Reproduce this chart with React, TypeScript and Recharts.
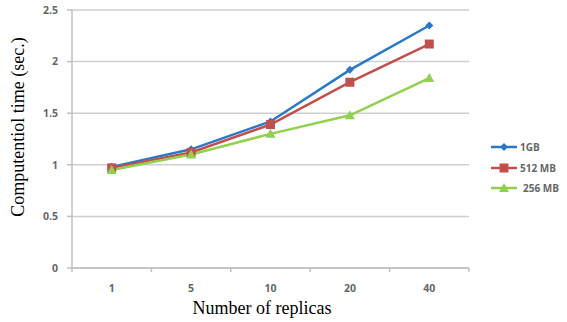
import { LineChart, Line, XAxis, YAxis, CartesianGrid, Label } from "recharts";

const REPLICAS = ["1", "5", "10", "20", "40"];
const GB_1 = [0.98, 1.15, 1.42, 1.92, 2.35];
const MB_512 = [0.97, 1.12, 1.39, 1.8, 2.17];
const MB_256 = [0.95, 1.1, 1.3, 1.48, 1.84];
const Y_TICKS = [0, 0.5, 1, 1.5, 2, 2.5];

const SERIES = [
  { key: "gb1", name: "1GB", color: "#2a78c8", shape: "diamond" },
  { key: "mb512", name: "512 MB", color: "#c0504d", shape: "square" },
  { key: "mb256", name: "256 MB", color: "#92d050", shape: "triangle" },
];

const data = REPLICAS.map((r, i) => ({
  replicas: r,
  gb1: GB_1[i],
  mb512: MB_512[i],
  mb256: MB_256[i],
}));

const W = 567;
const H = 322;
const PLOT_LEFT = 72;
const PLOT_RIGHT = 469;
const PLOT_TOP = 10;
const PLOT_BOTTOM = 268;
const BAND = (PLOT_RIGHT - PLOT_LEFT) / REPLICAS.length;
const AXIS = "#bfbfbf";
const TICK_FONT = "'Open Sans', 'Liberation Sans', sans-serif";
const SERIF = "'Liberation Serif', 'DejaVu Serif', serif";

function Marker({ cx, cy, shape, color }: any) {
  if (cx == null || cy == null) return null;
  if (shape === "diamond") {
    const s = 4;
    return <polygon points={`${cx},${cy - s} ${cx + s},${cy} ${cx},${cy + s} ${cx - s},${cy}`} fill={color} />;
  }
  if (shape === "square") {
    return <rect x={cx - 4.5} y={cy - 4.5} width={9} height={9} fill={color} />;
  }
  return <polygon points={`${cx},${cy - 5} ${cx + 5},${cy + 4} ${cx - 5},${cy + 4}`} fill={color} />;
}

// excel style: tick marks sit between categories, labels in the middle
function XTick({ x, payload, index }: any) {
  const left = x - BAND / 2;
  return (
    <g>
      <line x1={left} x2={left} y1={PLOT_BOTTOM} y2={PLOT_BOTTOM + 4} stroke={AXIS} strokeWidth={1.5} />
      {index === REPLICAS.length - 1 && (
        <line x1={left + BAND} x2={left + BAND} y1={PLOT_BOTTOM} y2={PLOT_BOTTOM + 4} stroke={AXIS} strokeWidth={1.5} />
      )}
      <text x={x} y={292} textAnchor="middle" fontSize={10.5} fontWeight={700} fill="#666" fontFamily={TICK_FONT}>
        {payload.value}
      </text>
    </g>
  );
}

function Legend() {
  return (
    <div style={{ position: "absolute", left: 490, top: 137 }}>
      {SERIES.map((s) => (
        <div key={s.key} style={{ display: "flex", alignItems: "center", height: 20.5 }}>
          <svg width={30} height={14}>
            <line x1={1} x2={27} y1={7} y2={7} stroke={s.color} strokeWidth={2.5} />
            <Marker cx={14} cy={7} shape={s.shape} color={s.color} />
          </svg>
          <span style={{ fontFamily: TICK_FONT, fontSize: 10, fontWeight: 700, color: "#666", marginLeft: s.key === "mb256" ? 3 : 0 }}>
            {s.name}
          </span>
        </div>
      ))}
    </div>
  );
}

export default function App() {
  return (
    <div style={{ position: "absolute", left: 0, top: 0, width: W, height: H, background: "#fff" }}>
      <LineChart
        width={W}
        height={H}
        data={data}
        margin={{ top: PLOT_TOP, right: W - PLOT_RIGHT, bottom: 4, left: 0 }}
      >
        <CartesianGrid vertical={false} stroke="#cfcfcf" strokeWidth={1.5} />
        <XAxis
          dataKey="replicas"
          height={H - PLOT_BOTTOM - 4}
          padding={{ left: BAND / 2, right: BAND / 2 }}
          stroke={AXIS}
          strokeWidth={1.5}
          tickLine={false}
          tick={<XTick />}
          interval={0}
        >
          <Label
            content={() => (
              <text x={262} y={314} textAnchor="middle" fontSize={18} fill="#000" fontFamily={SERIF}>
                Number of replicas
              </text>
            )}
          />
        </XAxis>
        <YAxis
          width={PLOT_LEFT}
          domain={[0, 2.5]}
          ticks={Y_TICKS}
          stroke={AXIS}
          strokeWidth={1.5}
          tickSize={5}
          tickMargin={9}
          tick={{ fontSize: 10.5, fontWeight: 700, fill: "#666", fontFamily: TICK_FONT }}
        >
          <Label
            content={() => (
              <text
                x={24}
                y={127}
                transform="rotate(-90 24 127)"
                textAnchor="middle"
                fontSize={18}
                fill="#000"
                fontFamily={SERIF}
              >
                Computentiol time (sec.)
              </text>
            )}
          />
        </YAxis>
        {SERIES.map((s) => (
          <Line
            key={s.key}
            dataKey={s.key}
            name={s.name}
            type="linear"
            stroke={s.color}
            strokeWidth={2.5}
            isAnimationActive={false}
            dot={(p: any) => <Marker key={`${s.key}-${p.index}`} cx={p.cx} cy={p.cy} shape={s.shape} color={s.color} />}
            activeDot={false}
          />
        ))}
      </LineChart>
      <Legend />
    </div>
  );
}
